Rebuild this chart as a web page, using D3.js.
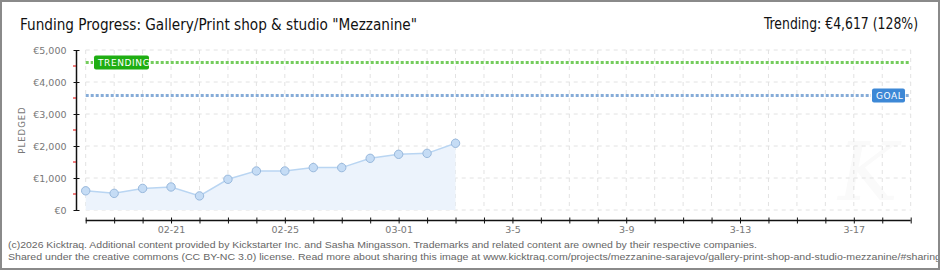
<!DOCTYPE html>
<html>
<head>
<meta charset="utf-8">
<script src="https://cdn.jsdelivr.net/npm/d3@7"></script>
<style>
  html, body { margin: 0; padding: 0; background: #fff; }
  svg { display: block; }
</style>
</head>
<body>
<div id="chart"></div>
<script>
// Daily pledged totals (EUR)
const dates = [
  "2026-02-18", "2026-02-19", "2026-02-20", "2026-02-21", "2026-02-22",
  "2026-02-23", "2026-02-24", "2026-02-25", "2026-02-26", "2026-02-27",
  "2026-02-28", "2026-03-01", "2026-03-02", "2026-03-03",
];
const pledged = [600, 520, 675, 720, 440, 960, 1220, 1220, 1325, 1325, 1615, 1740, 1770, 2085];

const goal = 3600;
const trending = 4617;

// x axis: labelled every 4 days
const tickDates = ["2026-02-21", "2026-02-25", "2026-03-01", "2026-03-05", "2026-03-09", "2026-03-13", "2026-03-17"];
const tickLabels = ["02-21", "02-25", "03-01", "3-5", "3-9", "3-13", "3-17"];
const yTicks = [0, 1000, 2000, 3000, 4000, 5000];

const width = 940;
const height = 270;
const parse = d3.utcParse("%Y-%m-%d");

const x = d3
  .scaleUtc()
  .domain([parse("2026-02-18"), parse("2026-03-19")])
  .range([85.7, 910.7]);

const y = d3.scaleLinear().domain([0, 5000]).range([210, 50]);

const svg = d3
  .select("#chart")
  .append("svg")
  .attr("width", width)
  .attr("height", height)
  .attr("viewBox", [0, 0, width, height]);

const pixelFont = "'DejaVu Sans', sans-serif";
const titleFont = "'DejaVu Sans Condensed', sans-serif";

// frame
svg
  .append("rect")
  .attr("x", 1)
  .attr("y", 1)
  .attr("width", width - 2)
  .attr("height", height - 2)
  .attr("fill", "#fff")
  .attr("stroke", "#8a8a8a")
  .attr("stroke-width", 2);

// faint watermark
svg
  .append("text")
  .attr("x", 868)
  .attr("y", 200)
  .attr("text-anchor", "middle")
  .attr("font-family", "'DejaVu Serif', serif")
  .attr("font-style", "italic")
  .attr("font-size", 80)
  .attr("fill", "#fafafa")
  .text("K");

// titles
svg
  .append("text")
  .attr("x", 20)
  .attr("y", 30)
  .attr("font-family", titleFont)
  .attr("font-size", 16)
  .attr("fill", "#111")
  .attr("textLength", 397)
  .attr("lengthAdjust", "spacingAndGlyphs")
  .text('Funding Progress: Gallery/Print shop & studio "Mezzanine"');

svg
  .append("text")
  .attr("x", 918)
  .attr("y", 29)
  .attr("text-anchor", "end")
  .attr("font-family", titleFont)
  .attr("font-size", 15)
  .attr("fill", "#111")
  .attr("textLength", 154)
  .attr("lengthAdjust", "spacingAndGlyphs")
  .text(`Trending: €${d3.format(",")(trending)} (128%)`);

// grid
const allDays = d3.utcDay.range(x.domain()[0], d3.utcDay.offset(x.domain()[1], 1));
svg
  .append("g")
  .selectAll("line")
  .data(allDays)
  .join("line")
  .attr("x1", (d) => x(d))
  .attr("x2", (d) => x(d))
  .attr("y1", y(5000))
  .attr("y2", y(0))
  .attr("stroke", "#e2e2e2")
  .attr("stroke-dasharray", "4,4");

svg
  .append("g")
  .selectAll("line")
  .data(yTicks)
  .join("line")
  .attr("x1", x.range()[0])
  .attr("x2", x.range()[1])
  .attr("y1", (d) => y(d))
  .attr("y2", (d) => y(d))
  .attr("stroke", "#e2e2e2")
  .attr("stroke-dasharray", "4,4");

// area + line
const series = dates.map((d, i) => ({ date: parse(d), value: pledged[i] }));

svg
  .append("path")
  .datum(series)
  .attr("fill", "#ecf3fc")
  .attr("d", d3.area().x((d) => x(d.date)).y0(y(0)).y1((d) => y(d.value)));

svg
  .append("path")
  .datum(series)
  .attr("fill", "none")
  .attr("stroke", "#b9d5f2")
  .attr("stroke-width", 1.5)
  .attr("d", d3.line().x((d) => x(d.date)).y((d) => y(d.value)));

svg
  .append("g")
  .selectAll("circle")
  .data(series)
  .join("circle")
  .attr("cx", (d) => x(d.date))
  .attr("cy", (d) => y(d.value))
  .attr("r", 4.2)
  .attr("fill", "#c5dcf5")
  .attr("stroke", "#98b8dc")
  .attr("stroke-width", 1);

// goal & trending lines
const refLines = [
  { value: trending, color: "#74cc5c", label: "TRENDING", box: "#1fae12", lx: 93 },
  { value: goal, color: "#86acd8", label: "GOAL", box: "#3d88d6", lx: 871 },
];

svg
  .append("g")
  .selectAll("line")
  .data(refLines)
  .join("line")
  .attr("x1", x.range()[0])
  .attr("x2", x.range()[1])
  .attr("y1", (d) => Math.round(y(d.value)) + 0.5)
  .attr("y2", (d) => Math.round(y(d.value)) + 0.5)
  .attr("stroke", (d) => d.color)
  .attr("stroke-width", 3)
  .attr("stroke-dasharray", "3,2");

const tags = svg
  .append("g")
  .selectAll("g")
  .data(refLines)
  .join("g")
  .attr("transform", (d) => `translate(${d.lx},${Math.round(y(d.value)) - 6.5})`);

tags
  .append("rect")
  .attr("width", (d) => (d.label === "GOAL" ? 34 : 56))
  .attr("height", 14)
  .attr("rx", 2)
  .attr("fill", "#fff");

tags
  .append("rect")
  .attr("x", 1)
  .attr("width", (d) => (d.label === "GOAL" ? 33 : 55))
  .attr("height", 14)
  .attr("rx", 2)
  .attr("fill", (d) => d.box);

tags
  .append("text")
  .attr("x", 5)
  .attr("y", 10.5)
  .attr("font-family", pixelFont)
  .attr("font-size", 9)
  .attr("letter-spacing", 0.6)
  .attr("fill", "#fff")
  .text((d) => d.label);

// y axis
svg
  .append("g")
  .attr("transform", "translate(76.5,0)")
  .call(
    d3
      .axisLeft(y)
      .tickValues(yTicks)
      .tickSize(3)
      .tickPadding(7)
      .tickFormat((d) => `€${d3.format(",")(d)}`),
  )
  .call((g) => g.select(".domain").attr("stroke", "#111").attr("stroke-width", 1.5).attr("d", `M0,${y(5000)}V${y(0)}`))
  .call((g) => g.selectAll(".tick line").attr("stroke", "#111").attr("x2", 3).attr("x1", -3))
  .call((g) =>
    g
      .selectAll(".tick text")
      .attr("fill", "#777")
      .attr("font-size", 9.5)
      .attr("font-family", pixelFont),
  );

// red minor ticks
svg
  .append("g")
  .selectAll("line")
  .data([500, 1500, 2500, 3500, 4500])
  .join("line")
  .attr("x1", 73)
  .attr("x2", 76)
  .attr("y1", (d) => y(d))
  .attr("y2", (d) => y(d))
  .attr("stroke", "#e00000");

svg
  .append("text")
  .attr("transform", `translate(25,${y(2500)}) rotate(-90)`)
  .attr("text-anchor", "middle")
  .attr("font-family", pixelFont)
  .attr("font-size", 8.5)
  .attr("letter-spacing", 1)
  .attr("fill", "#777")
  .text("PLEDGED");

// x axis
svg
  .append("g")
  .attr("transform", "translate(0,220.5)")
  .call(
    d3
      .axisBottom(x)
      .tickValues(allDays)
      .tickSize(3)
      .tickPadding(3)
      .tickFormat((d) => {
        const i = tickDates.indexOf(d3.utcFormat("%Y-%m-%d")(d));
        return i >= 0 ? tickLabels[i] : "";
      }),
  )
  .call((g) => g.select(".domain").attr("stroke", "#111").attr("stroke-width", 1.5).attr("d", `M${x.range()[0]},0H${x.range()[1]}`))
  .call((g) => g.selectAll(".tick line").attr("stroke", "#111").attr("y1", -3).attr("y2", 3))
  .call((g) =>
    g
      .selectAll(".tick text")
      .attr("fill", "#777")
      .attr("font-size", 9.5)
      .attr("font-family", pixelFont),
  );

// footer
const footer = [
  "(c)2026 Kicktraq. Additional content provided by Kickstarter Inc. and Sasha Mingasson. Trademarks and related content are owned by their respective companies.",
  "Shared under the creative commons (CC BY-NC 3.0) license. Read more about sharing this image at www.kicktraq.com/projects/mezzanine-sarajevo/gallery-print-shop-and-studio-mezzanine/#sharing",
];

svg
  .append("g")
  .selectAll("text")
  .data(footer)
  .join("text")
  .attr("x", 8)
  .attr("y", (d, i) => 248 + i * 12)
  .attr("font-family", "'Liberation Sans', sans-serif")
  .attr("font-size", 9.5)
  .attr("fill", "#666")
  .attr("textLength", (d, i) => (i === 0 ? 749 : 933))
  .attr("lengthAdjust", "spacingAndGlyphs")
  .text((d) => d);

// redraw right frame edge over clipped footer
svg
  .append("line")
  .attr("x1", 939)
  .attr("x2", 939)
  .attr("y1", 0)
  .attr("y2", height)
  .attr("stroke", "#8a8a8a")
  .attr("stroke-width", 2);
</script>
</body>
</html>
